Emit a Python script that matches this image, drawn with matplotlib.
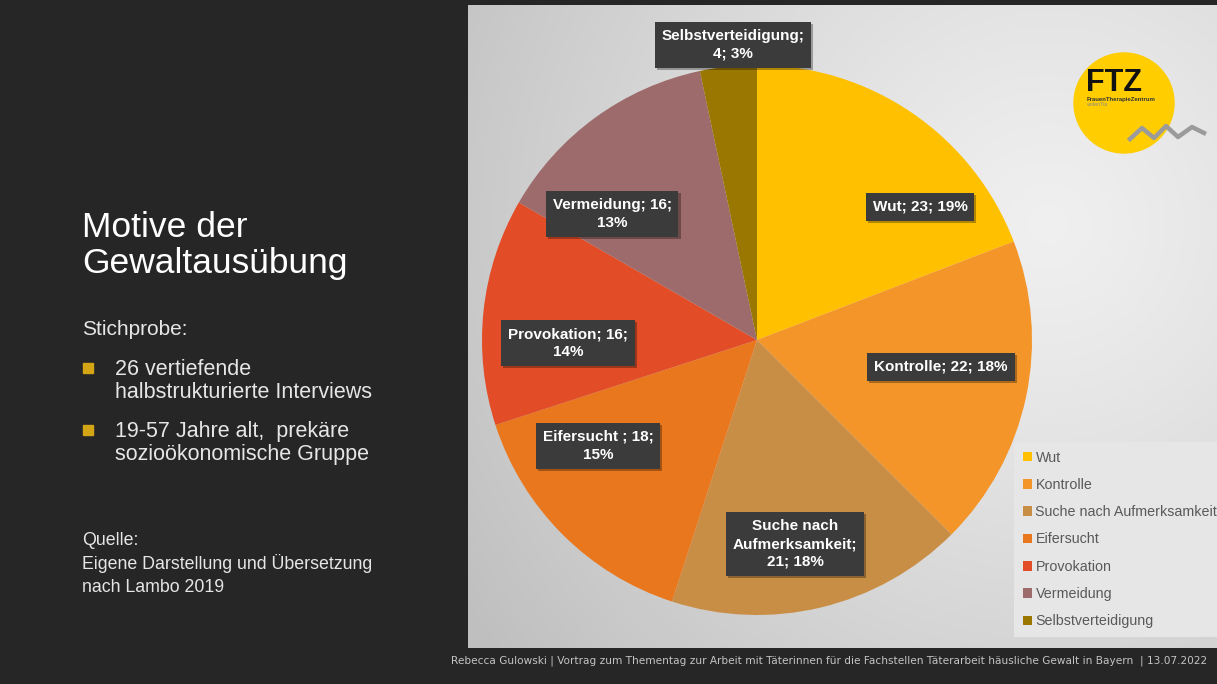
import numpy as np
import matplotlib.pyplot as plt
from matplotlib import patheffects
from matplotlib.patches import Circle, Rectangle

# Daten (Lambo 2019)
kategorien = ['Wut', 'Kontrolle', 'Suche nach Aufmerksamkeit', 'Eifersucht',
              'Provokation', 'Vermeidung', 'Selbstverteidigung']
anzahl = [23, 22, 21, 18, 16, 16, 4]
prozent = [19, 18, 18, 15, 14, 13, 3]

farben = ['#FFC000', '#F4952A', '#C98E45', '#E9771E', '#E24C27', '#9D6B6B', '#9A7700']

# Etiketten-Formate wie im Original (Zeilenumbrueche)
formate = ['{k}; {n}; {p}%', '{k}; {n}; {p}%', 'Suche nach\nAufmerksamkeit;\n{n}; {p}%',
           '{k} ; {n};\n{p}%', '{k}; {n};\n{p}%', '{k}; {n};\n{p}%', '{k};\n{n}; {p}%']
# Position der Etiketten (in Radius-Einheiten)
etikett_pos = [(0.593, 0.484), (0.669, -0.098), (0.138, -0.742), (-0.578, -0.385),
               (-0.687, -0.011), (-0.527, 0.458), (-0.087, 1.073)]

W, H = 1217, 684
plt.rcParams['font.family'] = ['Liberation Sans', 'DejaVu Sans']

fig = plt.figure(figsize=(W / 100, H / 100), dpi=100, facecolor='#262626')


def px(x, y):
    return x / W, 1 - y / H


# heller Hintergrund rechts mit Verlauf
bg = fig.add_axes([468 / W, 36 / H, (W - 468) / W, 643 / H])
yy, xx = np.mgrid[0:643, 0:749]
d = np.sqrt((xx - 580) ** 2 + (yy - 220) ** 2) / 700
grau = 0.94 - 0.19 * np.clip(d, 0, 1) ** 1.2
bg.imshow(np.dstack([grau, grau, grau]), extent=[0, 1, 0, 1], aspect='auto')
bg.axis('off')

# Kreisdiagramm
r_px = 275
half = r_px * 1.15
ax = fig.add_axes([(757 - half) / W, (344 - half) / H, 2 * half / W, 2 * half / H])
wedges, _ = ax.pie(anzahl, colors=farben, startangle=90, counterclock=False,
                   radius=1, wedgeprops=dict(linewidth=0))
ax.set_xlim(-1.15, 1.15)
ax.set_ylim(-1.15, 1.15)
ax.axis('off')

for k, n, p, fmt, (x, y) in zip(kategorien, anzahl, prozent, formate, etikett_pos):
    t = ax.text(x, y, fmt.format(k=k, n=n, p=p), ha='center', va='center',
                color='white', fontsize=11, fontweight='bold', linespacing=1.35,
                bbox=dict(boxstyle='square,pad=0.45', facecolor='#3b3b3b', edgecolor='none'))
    t.get_bbox_patch().set_path_effects([
        patheffects.withSimplePatchShadow(offset=(1.5, -1.5), shadow_rgbFace='black', alpha=0.3)])

leg = fig.legend(wedges, kategorien, loc='upper left', bbox_to_anchor=px(1014, 442),
                 frameon=True, fancybox=False, facecolor='#e6e6e6', edgecolor='none',
                 framealpha=1, fontsize=10.3, labelcolor='#595959', handlelength=0.65,
                 handleheight=0.65, handletextpad=0.25, labelspacing=0.93,
                 borderaxespad=0, borderpad=0.6)

# Logo
lg = fig.add_axes([(1124 - 60) / W, (684 - 103 - 60) / H, 120 / W, 120 / H])
lg.set_xlim(-60, 60)
lg.set_ylim(-60, 60)
lg.axis('off')
lg.add_patch(Circle((0, 0), 50, color='#FFCD00'))
lg.text(-38, 20, 'FTZ', fontsize=22, fontweight='bold', color='#111111', va='center', ha='left')
lg.text(-37, 4, 'FrauenTherapieZentrum', fontsize=4.3, fontweight='bold', color='#333333',
        va='center', ha='left')
lg.text(-37, -1, 'violenTia', fontsize=3.8, color='#8a8a8a', va='center', ha='left')
lg.plot([6, 18, 30, 42, 54, 68, 80], [-36, -25, -35, -23, -34, -24, -30], color='#9b9b9b',
        lw=3.2, solid_joinstyle='round', clip_on=False)

# Text links (jede Zeile einzeln auf ihre Grundlinie)
links = [(82, 237, 'Motive der', 25.5), (82, 273, 'Gewaltausübung', 25.5),
         (82, 335, 'Stichprobe:', 15),
         (115, 375, '26 vertiefende', 15.5), (115, 398, 'halbstrukturierte Interviews', 15.5),
         (115, 437, '19-57 Jahre alt,  prekäre', 15.5), (115, 460, 'sozioökonomische Gruppe', 15.5),
         (82, 545, 'Quelle:', 12.8), (82, 569, 'Eigene Darstellung und Übersetzung', 12.8),
         (82, 592, 'nach Lambo 2019', 12.8)]
for x, y, txt, fs in links:
    fig.text(*px(x, y), txt, color='white' if fs > 20 else '#e6e6e6', fontsize=fs,
             va='baseline', ha='left')
for yb in [373, 435]:
    fig.patches.append(Rectangle(px(83, yb), 10 / W, 10 / H, transform=fig.transFigure,
                                 color='#D4A514'))

# Fusszeile
fig.text(*px(1207, 661), 'Rebecca Gulowski | Vortrag zum Thementag zur Arbeit mit Täterinnen '
         'für die Fachstellen Täterarbeit häusliche Gewalt in Bayern  | 13.07.2022',
         color='#c4c4c4', fontsize=7.6, ha='right', va='center', family='DejaVu Sans')

fig.savefig('out.png', dpi=100, facecolor=fig.get_facecolor())
